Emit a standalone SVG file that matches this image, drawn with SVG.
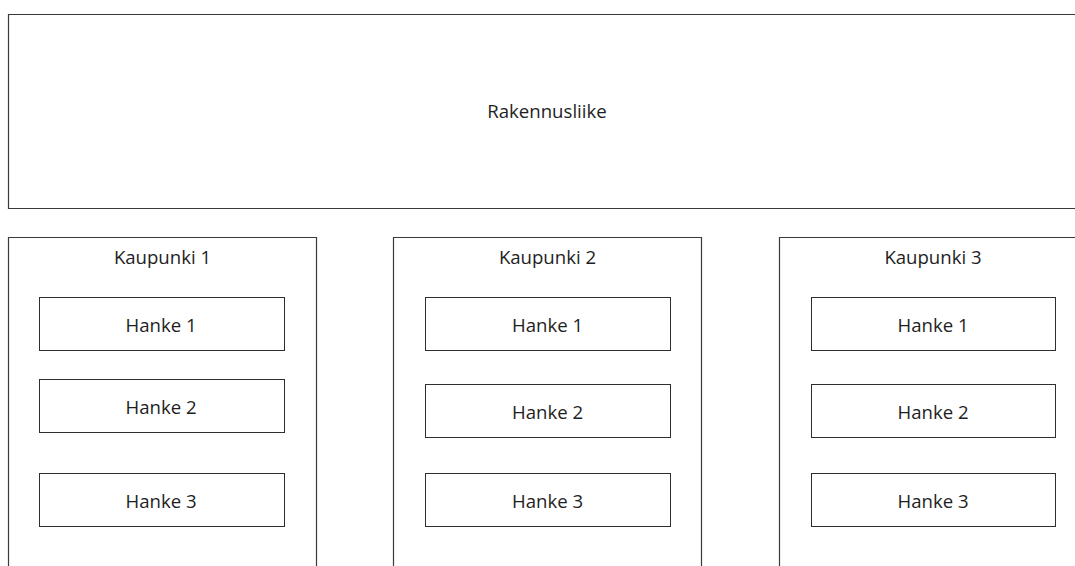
<svg xmlns="http://www.w3.org/2000/svg" width="1075" height="566" viewBox="0 0 1075 566">
  <style>
    .frame { fill: none; stroke: #3a3a3a; stroke-width: 1.2; }
    .box { fill: #ffffff; stroke: #2e2e2e; stroke-width: 1; }
    .label { font-family: "Open Sans", "Liberation Sans", sans-serif; font-size: 18.6px; fill: #1e1e1e; text-anchor: middle; }
  </style>
  <rect width="1075" height="566" fill="#ffffff"/>

  <!-- company frame, open on the right edge -->
  <g id="rakennusliike">
    <path class="frame" d="M1076 14.5 H8.5 V208.5 H1076"/>
    <text class="label" x="547" y="118">Rakennusliike</text>
  </g>

  <!-- city 1 -->
  <g id="kaupunki1">
    <path class="frame" d="M8.5 567 V237.5 H316.5 V567"/>
    <text class="label" x="162.5" y="264">Kaupunki 1</text>
  </g>
  <g id="k1-hanke1">
    <rect class="box" x="39.5" y="297.5" width="245" height="53"/>
    <text class="label" x="161" y="331.5">Hanke 1</text>
  </g>
  <g id="k1-hanke2">
    <rect class="box" x="39.5" y="379.5" width="245" height="53"/>
    <text class="label" x="161" y="413.5">Hanke 2</text>
  </g>
  <g id="k1-hanke3">
    <rect class="box" x="39.5" y="473.5" width="245" height="53"/>
    <text class="label" x="161" y="507.5">Hanke 3</text>
  </g>

  <!-- city 2 -->
  <g id="kaupunki2">
    <path class="frame" d="M393.5 567 V237.5 H701.5 V567"/>
    <text class="label" x="547.5" y="264">Kaupunki 2</text>
  </g>
  <g id="k2-hanke1">
    <rect class="box" x="425.5" y="297.5" width="245" height="53"/>
    <text class="label" x="547.5" y="331.5">Hanke 1</text>
  </g>
  <g id="k2-hanke2">
    <rect class="box" x="425.5" y="384.5" width="245" height="53"/>
    <text class="label" x="547.5" y="418.5">Hanke 2</text>
  </g>
  <g id="k2-hanke3">
    <rect class="box" x="425.5" y="473.5" width="245" height="53"/>
    <text class="label" x="547.5" y="507.5">Hanke 3</text>
  </g>

  <!-- city 3, open on the right edge -->
  <g id="kaupunki3">
    <path class="frame" d="M779.5 567 V237.5 H1076"/>
    <text class="label" x="933" y="264">Kaupunki 3</text>
  </g>
  <g id="k3-hanke1">
    <rect class="box" x="811.5" y="297.5" width="244" height="53"/>
    <text class="label" x="933" y="331.5">Hanke 1</text>
  </g>
  <g id="k3-hanke2">
    <rect class="box" x="811.5" y="384.5" width="244" height="53"/>
    <text class="label" x="933" y="418.5">Hanke 2</text>
  </g>
  <g id="k3-hanke3">
    <rect class="box" x="811.5" y="473.5" width="244" height="53"/>
    <text class="label" x="933" y="507.5">Hanke 3</text>
  </g>

  <g id="connectors"/>
</svg>
